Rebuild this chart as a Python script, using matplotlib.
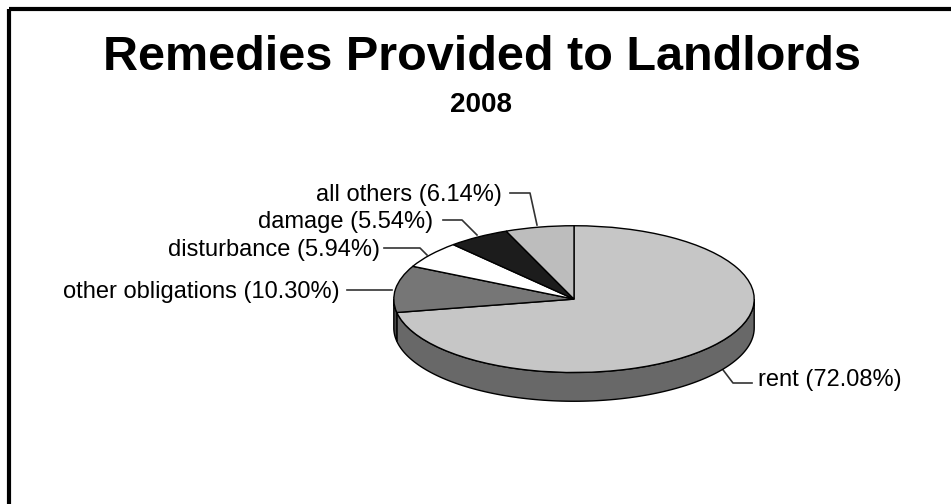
import numpy as np
import matplotlib
matplotlib.use("Agg")
from matplotlib import pyplot as plt
from matplotlib.patches import Polygon

plt.rcParams['font.family'] = ['Liberation Sans', 'DejaVu Sans']

# data
labels = ['rent', 'other obligations', 'disturbance', 'damage', 'all others']
shares = [72.08, 10.30, 5.94, 5.54, 6.14]
top_colors = ['#c6c6c6', '#767676', '#ffffff', '#1c1c1c', '#bdbdbd']
side_colors = ['#686868', '#484848', '#9a9a9a', '#111111', '#707070']

W, H = 951, 504
fig = plt.figure(figsize=(W / 100, H / 100), dpi=100)

# overlay in pixel coordinates for texts, leaders and the frame
ov = fig.add_axes([0, 0, 1, 1])
ov.set_xlim(0, W)
ov.set_ylim(H, 0)
ov.axis('off')

# pie axes: bounding box of the tilted pie (top surface + depth)
depth = 29 / 74
px0, px1, py0, py1 = 392, 756, 225, 402
pa = fig.add_axes([px0 / W, (H - py1) / H, (px1 - px0) / W, (py1 - py0) / H])
pa.set_zorder(2)
ov.set_zorder(1)

wedges, _ = pa.pie(shares, colors=top_colors, startangle=90, counterclock=False,
                   radius=1, wedgeprops=dict(edgecolor='black', linewidth=1.0))
for w in wedges:
    w.set_zorder(3)

# side wall for the front half of the pie
for w, sc in zip(wedges, side_colors):
    t1, t2 = w.theta1 % 360, w.theta2 % 360
    lo, hi = (t1, t2) if t1 < t2 else (t1, t2 + 360)
    segs = []
    for off in (0, 360):
        a, b = max(lo, 180 + off), min(hi, 360 + off)
        if b > a:
            segs.append((a, b))
    for a, b in segs:
        t = np.radians(np.linspace(a, b, 120))
        top = np.column_stack([np.cos(t), np.sin(t)])
        bot = np.column_stack([np.cos(t[::-1]), np.sin(t[::-1]) - depth])
        pa.add_patch(Polygon(np.vstack([top, bot]), closed=True, facecolor=sc,
                             edgecolor='black', linewidth=1.0, zorder=2))

pa.set_aspect('auto')
pa.set_xlim(-1.01, 1.01)
pa.set_ylim(-1 - depth - 0.01, 1.01)
pa.axis('off')

# title
ov.text(482, 70, 'Remedies Provided to Landlords', ha='center', va='baseline',
        fontsize=35, fontweight='bold')
ov.text(481, 112, '2008', ha='center', va='baseline', fontsize=20, fontweight='bold')

# labels with leader lines
fs = 17
lab = [f'{n} ({v:.2f}%)' for n, v in zip(labels, shares)]
ov.text(758, 380, lab[0], ha='left', va='center', fontsize=fs)
ov.plot([717, 733, 752], [362, 383, 383], color='#333333', lw=1.2)
ov.text(340, 292, lab[1], ha='right', va='center', fontsize=fs)
ov.plot([347, 392], [290, 290], color='#333333', lw=1.2)
ov.text(380, 250, lab[2], ha='right', va='center', fontsize=fs)
ov.plot([384, 420, 427], [248, 248, 255], color='#333333', lw=1.2)
ov.text(433, 222, lab[3], ha='right', va='center', fontsize=fs)
ov.plot([443, 462, 477], [220, 220, 235], color='#333333', lw=1.2)
ov.text(502, 195, lab[4], ha='right', va='center', fontsize=fs)
ov.plot([510, 530, 537], [193, 193, 225], color='#333333', lw=1.2)

# frame (left and top edges)
ov.plot([9, 9], [H, 9], color='black', lw=3, solid_capstyle='butt')
ov.plot([9, W], [9, 9], color='black', lw=3, solid_capstyle='butt')

fig.savefig('out.png', dpi=100)
